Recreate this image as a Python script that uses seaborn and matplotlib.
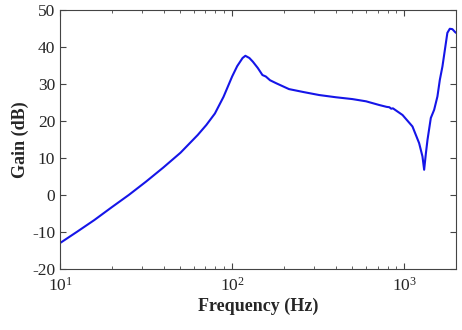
import seaborn as sns
import pandas as pd
import matplotlib as mpl
from matplotlib import pyplot as plt

sns.set_style("ticks")
plt.rcParams['font.family'] = ['Liberation Serif', 'DejaVu Serif']
plt.rcParams['mathtext.fontset'] = 'stix'
plt.rcParams['axes.unicode_minus'] = False

# values
freq = [10, 12.6, 15.8, 20.0, 25.1, 31.6, 39.8, 50.1, 63.1, 70.8, 79.4, 89.1, 100, 107,
        115, 119.4, 126, 132, 141, 150, 157, 166, 180, 214, 260, 320, 400, 500, 600,
        716, 790, 820, 840, 860, 978, 1117, 1221, 1277, 1306, 1335, 1366, 1428, 1493,
        1560, 1611, 1668, 1782, 1841, 1905, 1977, 2000]
gain = [-13.0, -9.9, -6.8, -3.3, 0.0, 3.6, 7.4, 11.4, 16.2, 18.9, 22.0, 26.5, 32.0, 34.8,
        37.0, 37.6, 37.0, 36.0, 34.3, 32.4, 32.0, 31.0, 30.2, 28.6, 27.8, 27.0, 26.4, 25.9,
        25.3, 24.3, 23.8, 23.7, 23.3, 23.4, 21.6, 18.5, 14.0, 10.4, 6.8, 11.0, 14.9, 20.8,
        23.0, 26.6, 31.1, 34.7, 43.8, 44.9, 44.8, 44.0, 43.8]

df = pd.DataFrame({'Frequency (Hz)': freq, 'Gain (dB)': gain})

fig, ax = plt.subplots(figsize=(4.62, 3.30), dpi=100)
fig.subplots_adjust(left=0.13, right=0.987, top=0.970, bottom=0.185)

sns.lineplot(data=df, x='Frequency (Hz)', y='Gain (dB)', color='#1515e8',
             linewidth=1.5, sort=False, ax=ax)

ax.set_xscale('log')
ax.set_xlim(10, 2000)
ax.set_ylim(-20, 50)
ax.set_yticks(range(-20, 51, 10))

ax.tick_params(which='both', direction='in', top=True, right=True,
               colors='#444444', labelcolor='#262626', labelsize=12.5)
ax.tick_params(which='major', length=4, width=0.8)
ax.tick_params(which='minor', length=2.5, width=0.6)
ax.tick_params(axis='x', which='major', pad=6)
for s in ax.spines.values():
    s.set_color('#444444')
    s.set_linewidth(0.8)

ax.set_xlabel('Frequency (Hz)', fontsize=13, fontweight='bold', color='#262626', labelpad=2)
ax.set_ylabel('Gain (dB)', fontsize=13, fontweight='bold', color='#262626', labelpad=2)

plt.savefig('out.png', dpi=100)
